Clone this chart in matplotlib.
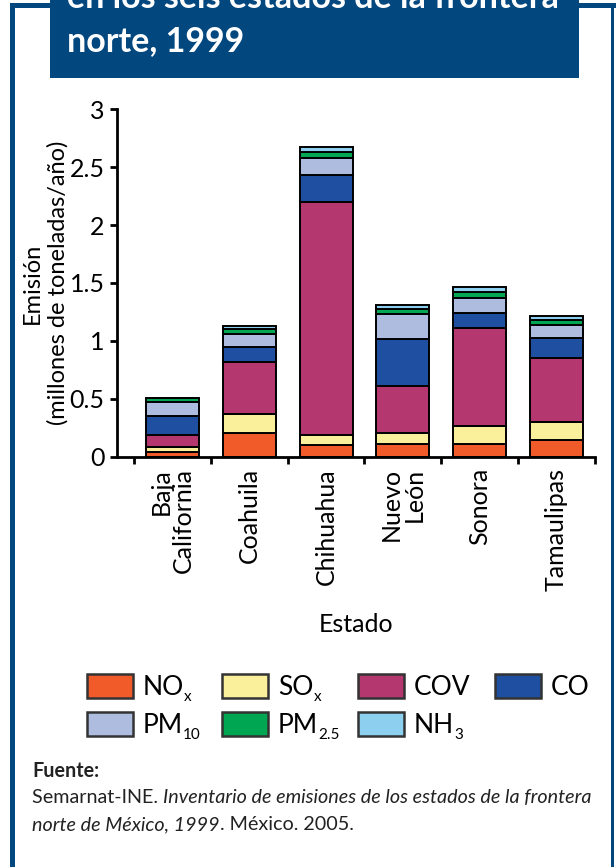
import matplotlib
matplotlib.use("Agg")
import matplotlib.pyplot as plt
from matplotlib.patches import Rectangle
import numpy as np

# Emisiones por estado (millones de toneladas/año), 1999
estados = ["Baja\nCalifornia", "Coahuila", "Chihuahua", "Nuevo\nLeón", "Sonora", "Tamaulipas"]
nox = [0.04, 0.21, 0.10, 0.11, 0.11, 0.145]
sox = [0.05, 0.16, 0.09, 0.10, 0.16, 0.16]
cov = [0.10, 0.45, 2.01, 0.40, 0.84, 0.55]
co = [0.16, 0.13, 0.23, 0.41, 0.13, 0.17]
pm10 = [0.12, 0.11, 0.15, 0.21, 0.135, 0.115]
pm25 = [0.035, 0.04, 0.05, 0.05, 0.05, 0.04]
nh3 = [0.005, 0.03, 0.04, 0.03, 0.04, 0.035]

# Nombre base y subíndice de cada contaminante
etiquetas = [("NO", "x"), ("SO", "x"), ("COV", ""), ("CO", ""),
             ("PM", "10"), ("PM", "2.5"), ("NH", "3")]
colores = ["#F15A29", "#FAF09B", "#B5376F", "#1F4FA0", "#AEBCDF", "#00A651", "#8DCFEF"]

yticks = [0, 0.5, 1, 1.5, 2, 2.5, 3]
ytick_labels = ["0", "0.5", "1", "1.5", "2", "2.5", "3"]

FONT = "Lato"
plt.rcParams["font.family"] = [FONT, "DejaVu Sans"]

W, H = 616, 867
fig = plt.figure(figsize=(W / 100, H / 100), dpi=100)
fig.patch.set_facecolor("white")
renderer = fig.canvas.get_renderer()

# Capa de fondo en coordenadas de píxel: marco, encabezado, leyenda y fuente
bg = fig.add_axes([0, 0, 1, 1], zorder=0)
bg.set_xlim(0, W)
bg.set_ylim(H, 0)
bg.axis("off")


def ancho(t):
    """Ancho en píxeles de un texto ya colocado."""
    return t.get_window_extent(renderer=renderer).width


azul = "#03477F"
bg.add_patch(Rectangle((10, 3), 5, H, color=azul, lw=0))
bg.add_patch(Rectangle((10, 3), W - 10, 4.5, color=azul, lw=0))
bg.add_patch(Rectangle((611, 3), 3, H, color=azul, lw=0))
bg.add_patch(Rectangle((50, -5), 529, 83, color=azul, lw=0))
bg.text(67, 8, "en los seis estados de la frontera", color="white",
        fontsize=24.5, fontweight="bold", va="baseline", ha="left")
bg.text(67, 51, "norte, 1999", color="white",
        fontsize=24.5, fontweight="bold", va="baseline", ha="left")

# Gráfica de barras apiladas
ax = fig.add_axes([117 / W, 1 - 457 / H, (595 - 117) / W, (457 - 109) / H], zorder=1)
ax.patch.set_alpha(0)
x = np.arange(len(estados))
series = [nox, sox, cov, co, pm10, pm25, nh3]
base = np.zeros(len(estados))
for vals, col in zip(series, colores):
    ax.bar(x, vals, width=0.69, bottom=base, color=col, edgecolor="black",
           linewidth=1.4, zorder=2)
    base = base + np.array(vals)

ax.set_xlim(-0.72, 5.5)
ax.set_ylim(0, 3)
for s in ["top", "right"]:
    ax.spines[s].set_visible(False)
for s in ["left", "bottom"]:
    ax.spines[s].set_linewidth(2)
ax.set_yticks(yticks)
ax.set_yticklabels(ytick_labels)
ax.tick_params(axis="y", length=5, width=2, labelsize=18, pad=4)
ax.set_xticks(x)
ax.set_xticklabels(estados, rotation=90, va="top", ha="center",
                   multialignment="right", linespacing=1.0)
ax.tick_params(axis="x", which="major", length=0, labelsize=18, pad=8)
ax.set_xticks(np.arange(-0.5, 5.6, 1), minor=True)
ax.tick_params(axis="x", which="minor", length=5, width=2)
ax.set_ylabel("Emisión\n(millones de toneladas/año)", fontsize=17,
              linespacing=1.2)
ax.yaxis.set_label_coords(-0.102, 0.5)
ax.set_xlabel("Estado", fontsize=18, labelpad=16)

# Leyenda
pos = [(87, 674), (222, 674), (358, 674), (495, 674),
       (87, 712), (222, 712), (358, 712)]
for (px, py), (nom, sub), col in zip(pos, etiquetas, colores):
    bg.add_patch(Rectangle((px, py), 46, 24, facecolor=col, edgecolor="#333333",
                           lw=1.8))
    t = bg.text(px + 56, py + 21, nom, fontsize=19, va="baseline", ha="left")
    if sub:
        bg.text(px + 56 + ancho(t), py + 27, sub, fontsize=11,
                va="baseline", ha="left")

# Fuente
gris = "#222222"
fs = 14.2
bg.text(32, 777, "Fuente:", fontsize=fs, fontweight="bold", va="baseline",
        color=gris)
t1 = bg.text(32, 803, "Semarnat-INE. ", fontsize=fs, va="baseline", color=gris)
bg.text(32 + ancho(t1), 803, "Inventario de emisiones de los estados de la frontera",
        va="baseline", ha="left", fontsize=fs, style="italic", color=gris)
t2 = bg.text(32, 830, "norte de México, 1999", fontsize=fs, va="baseline",
             style="italic", color=gris)
bg.text(32 + ancho(t2), 830, ". México. 2005.", va="baseline", ha="left",
        fontsize=fs, color=gris)

fig.savefig("out.png", dpi=100)
